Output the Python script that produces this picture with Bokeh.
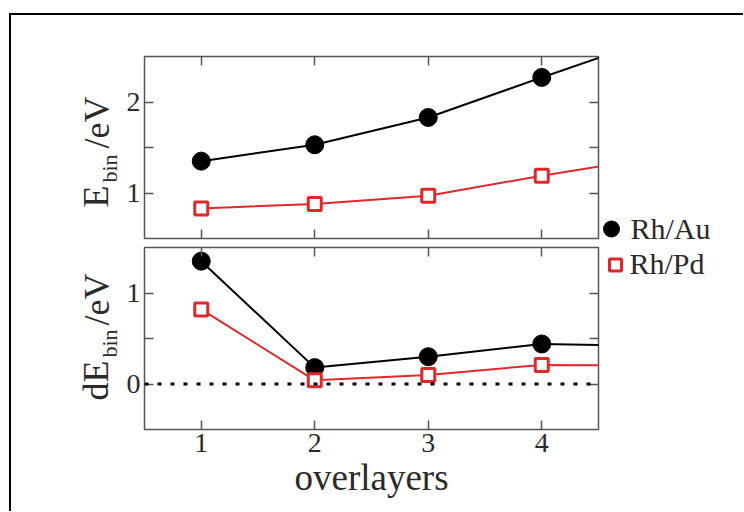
import math
from bokeh.plotting import figure
from bokeh.models import (Range1d, FixedTicker, LinearAxis, Span, Legend,
                          LegendItem, ColumnDataSource)
from bokeh.layouts import row, column
from bokeh.embed import file_html
from bokeh.resources import INLINE
from bokeh.core.properties import value

# ---------------- data ----------------
overlayers = [1, 2, 3, 4, 5]
ebin_rh_au = [1.35, 1.53, 1.83, 2.27, 2.70]
ebin_rh_pd = [0.83, 0.88, 0.97, 1.19, 1.39]
debin_rh_au = [1.35, 0.18, 0.30, 0.44, 0.42]
debin_rh_pd = [0.82, 0.04, 0.10, 0.21, 0.20]
series_labels = ["Rh/Au", "Rh/Pd"]
x_ticks = [1, 2, 3, 4]
top_y_ticks = [1, 2]
top_y_minor = [1.5]
bottom_y_ticks = [0, 1]
bottom_y_minor = [0.5]
x_label = "overlayers"
top_y_label = ["E", "bin", "/eV"]
bottom_y_label = ["dE", "bin", "/eV"]

# ---------------- style ----------------
FONT = "Liberation Serif"
AX = "#555555"
TXT = "#2a2a2a"
RED = "#e0282c"

src = ColumnDataSource(dict(x=overlayers, eau=ebin_rh_au, epd=ebin_rh_pd,
                            dau=debin_rh_au, dpd=debin_rh_pd))


def make_panel(height, mbt, mbb, yr, yticks, yminor, labelled_x):
    p = figure(width=477, height=height, x_range=Range1d(0.5, 4.5), y_range=Range1d(*yr),
               output_backend="svg", toolbar_location=None,
               x_axis_type=None, y_axis_type=None,
               min_border_left=21, min_border_right=2,
               min_border_top=mbt, min_border_bottom=mbb)
    p.outline_line_color = AX
    p.outline_line_width = 1.5
    p.background_fill_color = "white"
    p.border_fill_color = "white"
    for place in ["below", "above", "left", "right"]:
        if place in ("below", "above"):
            ax = LinearAxis(ticker=FixedTicker(ticks=x_ticks))
        else:
            ax = LinearAxis(ticker=FixedTicker(ticks=yticks, minor_ticks=yminor))
        ax.axis_line_color = None
        ax.major_tick_in = 9
        ax.major_tick_out = 0
        ax.minor_tick_in = 9
        ax.minor_tick_out = 0
        ax.major_tick_line_color = AX
        ax.minor_tick_line_color = AX
        ax.major_tick_line_width = 1.5
        ax.minor_tick_line_width = 1.5
        labelled = place == "left" or (place == "below" and labelled_x)
        if labelled:
            ax.major_label_text_font = FONT
            ax.major_label_text_font_size = "28px"
            ax.major_label_text_color = TXT
            ax.major_label_standoff = 4
        else:
            ax.major_label_text_color = None
            ax.major_label_text_font_size = "0px"
            ax.major_label_standoff = 0
        if place == "below" and labelled_x:
            ax.axis_label = x_label
            ax.axis_label_text_font = FONT
            ax.axis_label_text_font_size = "37px"
            ax.axis_label_text_font_style = "normal"
            ax.axis_label_text_color = TXT
            ax.axis_label_standoff = 2
        p.add_layout(ax, place)
    return p


# top panel: binding energy
p1 = make_panel(227, 41, 4, (0.5, 2.5), top_y_ticks, top_y_minor, False)
p1.line("x", "eau", source=src, line_color="black", line_width=2)
p1.scatter("x", "eau", source=src, marker="circle", size=18, fill_color="black", line_color="black")
p1.line("x", "epd", source=src, line_color=RED, line_width=2)
p1.scatter("x", "epd", source=src, marker="square", size=13, fill_color="white",
           line_color=RED, line_width=3)

# bottom panel: differences
p2 = make_panel(269, 5, 82, (-0.5, 1.5), bottom_y_ticks, bottom_y_minor, True)
p2.line("x", "dau", source=src, line_color="black", line_width=2)
p2.scatter("x", "dau", source=src, marker="circle", size=18, fill_color="black", line_color="black")
p2.line("x", "dpd", source=src, line_color=RED, line_width=2)
p2.scatter("x", "dpd", source=src, marker="square", size=13, fill_color="white",
           line_color=RED, line_width=3)
p2.add_layout(Span(location=0, dimension="width", line_color="black", line_width=3,
                   line_dash="4 9"))

# y-axis titles (rotated, with subscript) in their own narrow column, 1 unit = 1 px
lab = figure(width=112, height=496, x_range=Range1d(0, 112), y_range=Range1d(0, 496),
             output_backend="svg", toolbar_location=None, x_axis_type=None, y_axis_type=None,
             min_border=0, outline_line_color=None)
lab.grid.visible = False
lab.text(x=[84, 85, 84, 85], y=[304, 363, 111, 186],
         text=[top_y_label[0], top_y_label[2], bottom_y_label[0], bottom_y_label[2]],
         angle=math.pi / 2, text_font=value(FONT), text_font_size="36px", text_color=TXT,
         text_align="left", text_baseline="alphabetic")
lab.text(x=[98, 98], y=[329, 154], text=[top_y_label[1], bottom_y_label[1]],
         angle=math.pi / 2, text_font=value(FONT), text_font_size="22px", text_color=TXT,
         text_align="left", text_baseline="alphabetic")

# legend column
leg = figure(width=143, height=496, x_range=Range1d(10, 11), y_range=Range1d(10, 11),
             output_backend="svg", toolbar_location=None, x_axis_type=None, y_axis_type=None,
             min_border=0, outline_line_color=None)
r_au = leg.scatter("x", "eau", source=src, marker="circle", size=18, fill_color="black",
                   line_color="black")
r_pd = leg.scatter("x", "epd", source=src, marker="square", size=13, fill_color="white",
                   line_color=RED, line_width=3)
common = dict(padding=0, margin=0, border_line_color=None, background_fill_alpha=0,
              label_text_font=FONT, label_text_font_size="30px", label_text_color=TXT,
              label_standoff=0)
legA = Legend(items=[LegendItem(label=series_labels[0], renderers=[r_au])],
              location=(-9.5, 260), glyph_width=40, glyph_height=45, **common)
legB = Legend(items=[LegendItem(label=series_labels[1], renderers=[r_pd])],
              location=(-0.5, 230), glyph_width=30, glyph_height=33, **common)
leg.add_layout(legA)
leg.add_layout(legB)

layout = row(lab, column(p1, p2), leg, margin=(13, 0, 0, 9),
             styles={"border-top": "2px solid black", "border-left": "2px solid black"})

open("out.html", "w").write(file_html(layout, INLINE))
